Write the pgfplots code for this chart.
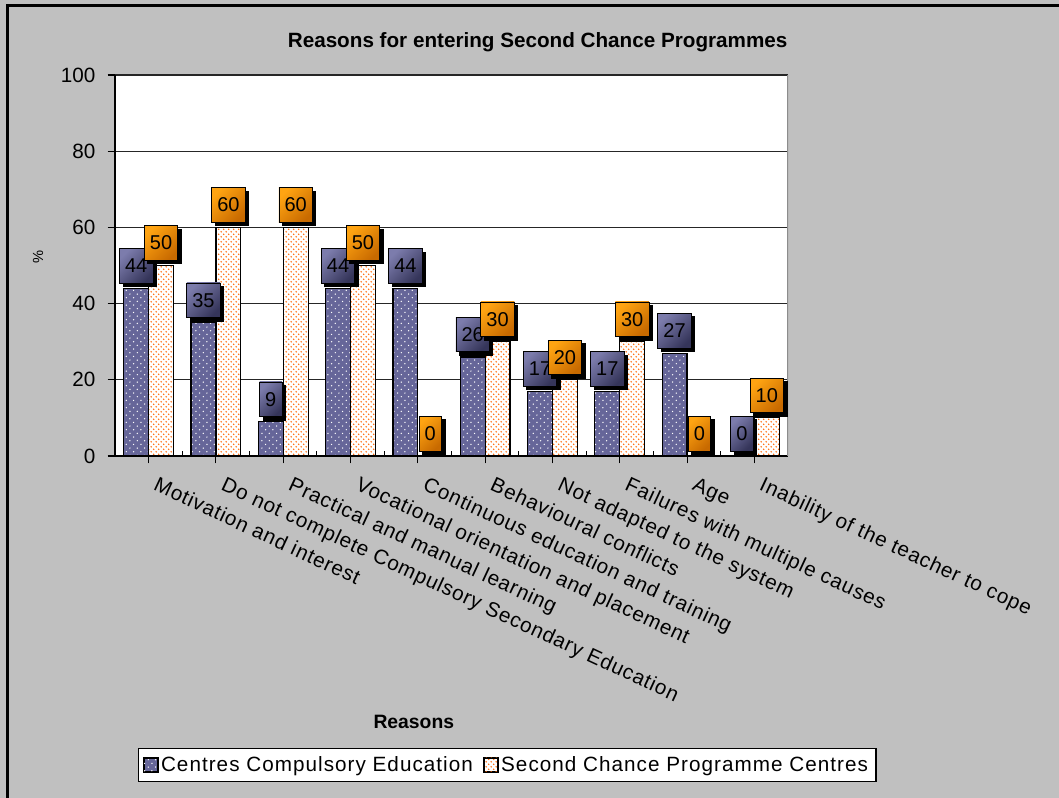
\documentclass[border=0pt]{standalone}
\usepackage{fontspec}
\setmainfont{Liberation Sans}
\newfontfamily\widefont[LetterSpace=4]{Liberation Sans}
\newfontfamily\legfont[LetterSpace=5]{Liberation Sans}
\usepackage{pgfplots}
\pgfplotsset{compat=1.18}
\usetikzlibrary{patterns,shadows}
\definecolor{bgray}{HTML}{C0C0C0}
\definecolor{barblue}{HTML}{666699}
\definecolor{dotorange}{HTML}{FF6600}
\definecolor{lblblueA}{HTML}{7C7CAC}
\definecolor{lblblueB}{HTML}{35355A}
\definecolor{lblorA}{HTML}{FFA412}
\definecolor{lblorB}{HTML}{C86A00}
\pgfdeclarepatternformonly{bluedots}{\pgfqpoint{-1pt}{-1pt}}{\pgfqpoint{6.5pt}{6.5pt}}{\pgfqpoint{5.5pt}{5.5pt}}{%
  \pgfpathcircle{\pgfqpoint{1.2pt}{1.2pt}}{0.55pt}%
  \pgfpathcircle{\pgfqpoint{3.95pt}{3.95pt}}{0.55pt}%
  \pgfusepath{fill}}
\pgfdeclarepatternformonly{orangedots}{\pgfqpoint{-0.5pt}{-0.5pt}}{\pgfqpoint{4.25pt}{4.25pt}}{\pgfqpoint{3.75pt}{3.75pt}}{%
  \pgfpathcircle{\pgfqpoint{0.9pt}{0.9pt}}{0.6pt}%
  \pgfpathcircle{\pgfqpoint{2.775pt}{2.775pt}}{0.6pt}%
  \pgfusepath{fill}}
\pgfplotstableread{
x a b
0 44 50
1 35 60
2 9 60
3 44 50
4 44 0
5 26 30
6 17 20
7 17 30
8 27 0
9 0 10
}\reasons
\newcommand{\lblfont}{\widefont\fontsize{15.5}{18}\selectfont}
\tikzset{
  lblbox/.style 2 args={draw=black, line width=0.6pt, top color=#1, bottom color=#2, shading angle=45,
    drop shadow={shadow xshift=2.6pt, shadow yshift=-2.6pt, fill=black, opacity=1},
    font=\fontsize{15}{17}\selectfont, text=black, inner xsep=4.2pt, inner ysep=0pt,
    minimum height=26pt, anchor=south, yshift=3.5pt}
}
\begin{document}
\begin{tikzpicture}
\useasboundingbox (0,0) rectangle (794.25pt,598.5pt);
\fill[bgray] (0,0) rectangle (794.25pt,598.5pt);
\draw[black, line width=1.9pt] (4.5pt,594.4pt) -- (794.25pt,594.4pt);
\draw[black, line width=1.9pt] (5.6pt,0pt) -- (5.6pt,595.3pt);
\begin{axis}[
  at={(86.25pt,256.5pt)}, anchor=south west,
  scale only axis, width=504.75pt, height=285.75pt,
  xmin=-0.5, xmax=9.5, ymin=0, ymax=100,
  ybar=0pt, bar width=0.37,
  axis background/.style={fill=white},
  axis x line*=bottom, axis y line*=left,
  axis line style={line width=1pt, black, -},
  tick align=outside, major tick length=5.5pt,
  tick style={black, line width=0.8pt},
  xtick={0,...,9},
  xticklabels={Motivation and interest, Do not complete Compulsory Secondary Education, Practical and manual learning, Vocational orientation and placement, Continuous education and training, Behavioural conflicts, Not adapted to the system, Failures with multiple causes, Age, Inability of the teacher to cope},
  xticklabel style={rotate=-25, anchor=north west, font=\lblfont, inner sep=0pt, xshift=11pt, yshift=-5.4pt},
  extra x ticks={0.5,1.5,...,8.5},
  extra x tick labels={},
  extra x tick style={tick align=inside, major tick length=3.5pt, grid=none},
  ytick={0,20,...,100},
  yticklabel style={font=\fontsize{15.5}{18}\selectfont, anchor=east, inner sep=0pt, xshift=-9pt},
  /pgf/number format/assume math mode=true,
  ymajorgrids, major grid style={black!85, line width=0.8pt},
  title={Reasons for entering Second Chance Programmes},
  every axis title shift=0pt,
  title style={at={(axis description cs:0.628,1.085)}, anchor=center, font=\bfseries\fontsize{15.5}{18}\selectfont},
  xlabel={Reasons},
  xlabel style={at={(axis description cs:0.444,-0.698)}, anchor=center, font=\bfseries\fontsize{14.5}{17}\selectfont},
  ylabel={\%},
  ylabel style={at={(axis description cs:-0.1144,0.522)}, anchor=center, rotate=0, font=\fontsize{11}{13}\selectfont},
  legend style={draw=black, line width=0.9pt, fill=white, at={(axis description cs:0.5825,-0.811)}, anchor=center,
    legend columns=2, font=\legfont\fontsize{15.5}{18}\selectfont, inner xsep=4pt, inner ysep=4pt,
    /tikz/every even column/.append style={column sep=6pt}},
  legend cell align=left,
]
\addplot[preaction={fill=barblue}, pattern=bluedots, pattern color=white, draw=black, line width=0.9pt,
  nodes near coords, every node near coord/.append style={lblbox={lblblueA}{lblblueB}},
  legend image code/.code={\draw[preaction={fill=barblue}, draw=black, line width=0.7pt] (0pt,-5.25pt) rectangle (10.5pt,5.25pt);}]
  table[x=x,y=a] {\reasons};
\addlegendentry{Centres Compulsory Education}
\addplot[preaction={fill=white}, pattern=orangedots, pattern color=dotorange, draw=black, line width=0.9pt,
  nodes near coords, every node near coord/.append style={lblbox={lblorA}{lblorB}},
  legend image code/.code={\draw[preaction={fill=white}, pattern=orangedots, pattern color=dotorange, draw=black, line width=0.7pt] (0pt,-5.25pt) rectangle (10.5pt,5.25pt);}]
  table[x=x,y=b] {\reasons};
\addlegendentry{Second Chance Programme Centres}
\draw[black!45, line width=1.2pt] (rel axis cs:1,0) -- (rel axis cs:1,1);
\end{axis}
\end{tikzpicture}
\end{document}
